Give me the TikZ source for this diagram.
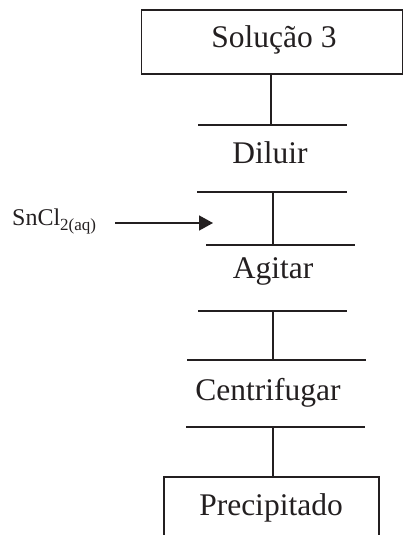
\documentclass[tikz,border=0pt]{standalone}
\usepackage{fontspec}
\setmainfont{Liberation Serif}
\usetikzlibrary{arrows.meta}
\definecolor{ink}{HTML}{231F20}
\begin{document}
\begin{tikzpicture}[x=1pt,y=-1pt,
  rule/.style={draw=ink,line width=1.25pt},
  lbl/.style={anchor=base,inner sep=0pt,text=ink,font=\fontsize{31.5}{36}\selectfont},
  feed/.style={draw=ink,line width=1.6pt,-{Triangle[length=14pt,width=15pt]}}]
\useasboundingbox (0,0) rectangle (404,535);
% top box
\node[rule,minimum width=261pt,minimum height=64pt,inner sep=0pt] (box1) at (272,42) {};
\node[lbl] (t1) at (274,48) {Solução 3};
% step lines
\coordinate (l1a) at (198,125); \coordinate (l1b) at (347,125); \coordinate (l1c) at (271,125);
\coordinate (l2a) at (197,192); \coordinate (l2b) at (347,192); \coordinate (l2c) at (273,192);
\coordinate (l3a) at (206,245); \coordinate (l3b) at (355,245); \coordinate (l3c) at (273,245);
\coordinate (l4a) at (198,311); \coordinate (l4b) at (347,311); \coordinate (l4c) at (273,311);
\coordinate (l5a) at (187,360); \coordinate (l5b) at (366,360); \coordinate (l5c) at (273,360);
\coordinate (l6a) at (186,427); \coordinate (l6b) at (365,427); \coordinate (l6c) at (273,427);
\foreach \i in {1,...,6} {\draw[rule] (l\i a) -- (l\i b);}
\node[lbl] (t2) at (270,163) {Diluir};
\node[lbl] (t3) at (273,278) {Agitar};
\node[lbl] (t4) at (268,400) {Centrifugar};
% bottom box (open at the bottom edge of the picture)
\coordinate (b2l) at (164,536); \coordinate (b2r) at (379,536); \coordinate (b2t) at (273,477);
\draw[rule] (b2l) |- (b2t) -| (b2r);
\node[lbl] (t5) at (271,515) {Precipitado};
% connectors
\draw[rule] (box1.south -| l1c) -- (l1c);
\draw[rule] (l2c) -- (l3c);
\draw[rule] (l4c) -- (l5c);
\draw[rule] (l6c) -- (b2t);
% feed
\node[anchor=base west,inner sep=0pt,text=ink] (sn) at (12,225)
  {\fontsize{24}{28}\selectfont SnCl\raisebox{-5pt}{\fontsize{17}{20}\selectfont 2(aq)}};
\coordinate (tip) at (213,223);
\coordinate (tail) at (115,223);
\draw[feed] (tail) -- (tip);
\end{tikzpicture}
\end{document}
